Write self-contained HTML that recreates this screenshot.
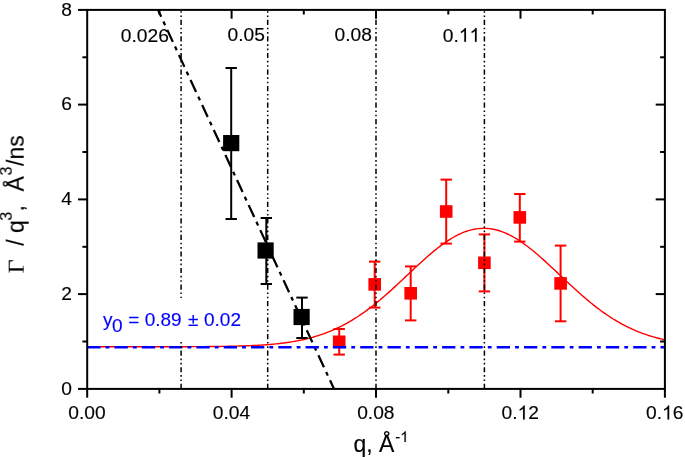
<!DOCTYPE html><html><head><meta charset="utf-8"><title>chart</title><style>html,body{margin:0;padding:0;background:#fff;}svg{display:block}text{font-family:"Liberation Sans",sans-serif;fill:#000;stroke:#000;stroke-width:0.15px}</style></head><body>
<svg width="685" height="457" viewBox="0 0 685 457">
<rect x="0" y="0" width="685" height="457" fill="#fff"/>
<polyline points="87.20,346.74 89.13,346.74 91.05,346.74 92.98,346.74 94.90,346.74 96.83,346.74 98.75,346.74 100.68,346.74 102.61,346.74 104.53,346.74 106.46,346.74 108.38,346.74 110.31,346.74 112.23,346.74 114.16,346.74 116.09,346.74 118.01,346.74 119.94,346.73 121.86,346.73 123.79,346.73 125.71,346.73 127.64,346.73 129.56,346.73 131.49,346.73 133.42,346.73 135.34,346.73 137.27,346.73 139.19,346.73 141.12,346.73 143.04,346.73 144.97,346.73 146.90,346.73 148.82,346.73 150.75,346.73 152.67,346.73 154.60,346.73 156.52,346.72 158.45,346.72 160.38,346.72 162.30,346.72 164.23,346.72 166.15,346.72 168.08,346.71 170.00,346.71 171.93,346.71 173.85,346.71 175.78,346.70 177.71,346.70 179.63,346.70 181.56,346.69 183.48,346.69 185.41,346.68 187.33,346.68 189.26,346.67 191.19,346.66 193.11,346.66 195.04,346.65 196.96,346.64 198.89,346.63 200.81,346.62 202.74,346.61 204.67,346.59 206.59,346.58 208.52,346.56 210.44,346.55 212.37,346.53 214.29,346.51 216.22,346.49 218.15,346.47 220.07,346.44 222.00,346.42 223.92,346.39 225.85,346.36 227.77,346.32 229.70,346.29 231.62,346.25 233.55,346.20 235.48,346.16 237.40,346.11 239.33,346.05 241.25,346.00 243.18,345.93 245.10,345.87 247.03,345.80 248.96,345.72 250.88,345.64 252.81,345.55 254.73,345.45 256.66,345.35 258.58,345.25 260.51,345.13 262.44,345.01 264.36,344.88 266.29,344.74 268.21,344.59 270.14,344.43 272.06,344.26 273.99,344.08 275.92,343.89 277.84,343.68 279.77,343.47 281.69,343.24 283.62,343.00 285.54,342.74 287.47,342.47 289.39,342.19 291.32,341.88 293.25,341.57 295.17,341.23 297.10,340.87 299.02,340.50 300.95,340.11 302.87,339.70 304.80,339.26 306.73,338.81 308.65,338.33 310.58,337.83 312.50,337.30 314.43,336.75 316.35,336.18 318.28,335.58 320.21,334.95 322.13,334.29 324.06,333.61 325.98,332.90 327.91,332.16 329.83,331.39 331.76,330.59 333.69,329.76 335.61,328.90 337.54,328.00 339.46,327.07 341.39,326.12 343.31,325.12 345.24,324.10 347.16,323.04 349.09,321.95 351.02,320.82 352.94,319.66 354.87,318.46 356.79,317.24 358.72,315.97 360.64,314.68 362.57,313.35 364.50,311.99 366.42,310.60 368.35,309.17 370.27,307.71 372.20,306.23 374.12,304.71 376.05,303.17 377.98,301.59 379.90,299.99 381.83,298.37 383.75,296.72 385.68,295.04 387.60,293.35 389.53,291.63 391.46,289.90 393.38,288.14 395.31,286.38 397.23,284.60 399.16,282.81 401.08,281.00 403.01,279.20 404.94,277.38 406.86,275.56 408.79,273.75 410.71,271.93 412.64,270.12 414.56,268.31 416.49,266.51 418.41,264.73 420.34,262.95 422.27,261.20 424.19,259.46 426.12,257.75 428.04,256.06 429.97,254.39 431.89,252.76 433.82,251.16 435.75,249.59 437.67,248.06 439.60,246.58 441.52,245.13 443.45,243.73 445.37,242.37 447.30,241.07 449.23,239.82 451.15,238.62 453.08,237.48 455.00,236.40 456.93,235.38 458.85,234.42 460.78,233.53 462.70,232.70 464.63,231.94 466.56,231.25 468.48,230.63 470.41,230.08 472.33,229.60 474.26,229.20 476.18,228.87 478.11,228.61 480.04,228.43 481.96,228.33 483.89,228.30 485.81,228.35 487.74,228.47 489.66,228.67 491.59,228.94 493.52,229.29 495.44,229.71 497.37,230.21 499.29,230.78 501.22,231.42 503.14,232.12 505.07,232.90 507.00,233.75 508.92,234.66 510.85,235.63 512.77,236.67 514.70,237.76 516.62,238.92 518.55,240.13 520.47,241.39 522.40,242.71 524.33,244.07 526.25,245.49 528.18,246.94 530.10,248.44 532.03,249.98 533.95,251.56 535.88,253.17 537.81,254.81 539.73,256.48 541.66,258.17 543.58,259.89 545.51,261.64 547.43,263.40 549.36,265.17 551.29,266.96 553.21,268.76 555.14,270.57 557.06,272.38 558.99,274.20 560.91,276.02 562.84,277.84 564.77,279.65 566.69,281.46 568.62,283.25 570.54,285.04 572.47,286.82 574.39,288.58 576.32,290.33 578.25,292.06 580.17,293.77 582.10,295.46 584.02,297.13 585.95,298.77 587.87,300.39 589.80,301.99 591.72,303.55 593.65,305.09 595.58,306.60 597.50,308.08 599.43,309.53 601.35,310.95 603.28,312.33 605.20,313.69 607.13,315.01 609.06,316.29 610.98,317.55 612.91,318.77 614.83,319.95 616.76,321.10 618.68,322.22 620.61,323.31 622.54,324.36 624.46,325.37 626.39,326.36 628.31,327.31 630.24,328.23 632.16,329.11 634.09,329.97 636.01,330.79 637.94,331.59 639.87,332.35 641.79,333.08 643.72,333.79 645.64,334.46 647.57,335.11 649.49,335.73 651.42,336.32 653.35,336.89 655.27,337.44 657.20,337.95 659.12,338.45 661.05,338.92 662.97,339.37 664.90,339.80" fill="none" stroke="#ff0000" stroke-width="1.4"/>
<g stroke="#ff0000" stroke-width="2" fill="#ff0000">
<line x1="339.2" y1="329.0" x2="339.2" y2="354.6"/>
<line x1="333.5" y1="329.0" x2="344.9" y2="329.0"/>
<line x1="333.5" y1="354.6" x2="344.9" y2="354.6"/>
<rect x="332.9" y="335.5" width="12.6" height="12.6" stroke="none"/>
</g>
<g stroke="#ff0000" stroke-width="2" fill="#ff0000">
<line x1="374.7" y1="261.6" x2="374.7" y2="307.6"/>
<line x1="369.0" y1="261.6" x2="380.4" y2="261.6"/>
<line x1="369.0" y1="307.6" x2="380.4" y2="307.6"/>
<rect x="368.4" y="278.1" width="12.6" height="12.6" stroke="none"/>
</g>
<g stroke="#ff0000" stroke-width="2" fill="#ff0000">
<line x1="410.7" y1="266.4" x2="410.7" y2="320.4"/>
<line x1="405.0" y1="266.4" x2="416.4" y2="266.4"/>
<line x1="405.0" y1="320.4" x2="416.4" y2="320.4"/>
<rect x="404.4" y="287.0" width="12.6" height="12.6" stroke="none"/>
</g>
<g stroke="#ff0000" stroke-width="2" fill="#ff0000">
<line x1="446.2" y1="179.6" x2="446.2" y2="243.6"/>
<line x1="440.5" y1="179.6" x2="451.9" y2="179.6"/>
<line x1="440.5" y1="243.6" x2="451.9" y2="243.6"/>
<rect x="439.9" y="205.2" width="12.6" height="12.6" stroke="none"/>
</g>
<g stroke="#ff0000" stroke-width="2" fill="#ff0000">
<line x1="484.4" y1="234.4" x2="484.4" y2="291.4"/>
<line x1="478.7" y1="234.4" x2="490.1" y2="234.4"/>
<line x1="478.7" y1="291.4" x2="490.1" y2="291.4"/>
<rect x="478.1" y="256.5" width="12.6" height="12.6" stroke="none"/>
</g>
<g stroke="#ff0000" stroke-width="2" fill="#ff0000">
<line x1="519.8" y1="194.0" x2="519.8" y2="241.6"/>
<line x1="514.1" y1="194.0" x2="525.5" y2="194.0"/>
<line x1="514.1" y1="241.6" x2="525.5" y2="241.6"/>
<rect x="513.5" y="211.1" width="12.6" height="12.6" stroke="none"/>
</g>
<g stroke="#ff0000" stroke-width="2" fill="#ff0000">
<line x1="560.6" y1="245.6" x2="560.6" y2="321.3"/>
<line x1="554.9" y1="245.6" x2="566.3" y2="245.6"/>
<line x1="554.9" y1="321.3" x2="566.3" y2="321.3"/>
<rect x="554.3" y="277.1" width="12.6" height="12.6" stroke="none"/>
</g>
<line x1="158" y1="9.9" x2="334" y2="388.9" stroke="#000" stroke-width="2.25" stroke-dasharray="13.2 5.2 4 5.2" stroke-dashoffset="5.56"/>
<g stroke="#000" stroke-width="2" fill="#000">
<line x1="231.2" y1="68.0" x2="231.2" y2="219.0"/>
<line x1="225.5" y1="68.0" x2="236.9" y2="68.0"/>
<line x1="225.5" y1="219.0" x2="236.9" y2="219.0"/>
<rect x="223.1" y="135.0" width="16.2" height="16.2" stroke="none"/>
</g>
<g stroke="#000" stroke-width="2" fill="#000">
<line x1="266.3" y1="218.0" x2="266.3" y2="284.0"/>
<line x1="260.6" y1="218.0" x2="272.0" y2="218.0"/>
<line x1="260.6" y1="284.0" x2="272.0" y2="284.0"/>
<rect x="257.5" y="242.4" width="16.2" height="16.2" stroke="none"/>
</g>
<g stroke="#000" stroke-width="2" fill="#000">
<line x1="302.0" y1="297.6" x2="302.0" y2="338.0"/>
<line x1="296.3" y1="297.6" x2="307.7" y2="297.6"/>
<line x1="296.3" y1="338.0" x2="307.7" y2="338.0"/>
<rect x="293.5" y="308.9" width="16.2" height="16.2" stroke="none"/>
</g>
<line x1="87.2" y1="347.2" x2="664.9" y2="347.2" stroke="#0000ff" stroke-width="2.5" stroke-dasharray="13.3 5.1 3.8 5.1"/>
<line x1="181.1" y1="388.9" x2="181.1" y2="9.9" stroke="#000" stroke-width="1.5" stroke-dasharray="5.2 2.7 1.6 2.72 1.6 2.72"/>
<line x1="267.7" y1="388.9" x2="267.7" y2="9.9" stroke="#000" stroke-width="1.5" stroke-dasharray="5.2 2.7 1.6 2.72 1.6 2.72"/>
<line x1="376.0" y1="388.9" x2="376.0" y2="9.9" stroke="#000" stroke-width="1.5" stroke-dasharray="5.2 2.7 1.6 2.72 1.6 2.72"/>
<line x1="484.4" y1="388.9" x2="484.4" y2="9.9" stroke="#000" stroke-width="1.5" stroke-dasharray="5.2 2.7 1.6 2.72 1.6 2.72"/>
<rect x="99" y="298.3" width="146" height="43.1" fill="#fff"/>
<rect x="87.2" y="9.9" width="577.7" height="379.0" fill="none" stroke="#000" stroke-width="2"/>
<g stroke="#000" stroke-width="2">
<line x1="87.2" y1="388.9" x2="87.2" y2="397.7"/>
<line x1="159.4" y1="388.9" x2="159.4" y2="393.5"/>
<line x1="159.4" y1="9.9" x2="159.4" y2="14.5"/>
<line x1="231.6" y1="388.9" x2="231.6" y2="397.7"/>
<line x1="231.6" y1="9.9" x2="231.6" y2="18.7"/>
<line x1="303.8" y1="388.9" x2="303.8" y2="393.5"/>
<line x1="303.8" y1="9.9" x2="303.8" y2="14.5"/>
<line x1="376.0" y1="388.9" x2="376.0" y2="397.7"/>
<line x1="376.0" y1="9.9" x2="376.0" y2="18.7"/>
<line x1="448.3" y1="388.9" x2="448.3" y2="393.5"/>
<line x1="448.3" y1="9.9" x2="448.3" y2="14.5"/>
<line x1="520.5" y1="388.9" x2="520.5" y2="397.7"/>
<line x1="520.5" y1="9.9" x2="520.5" y2="18.7"/>
<line x1="592.7" y1="388.9" x2="592.7" y2="393.5"/>
<line x1="592.7" y1="9.9" x2="592.7" y2="14.5"/>
<line x1="664.9" y1="388.9" x2="664.9" y2="397.7"/>
<line x1="87.2" y1="388.9" x2="78.0" y2="388.9"/>
<line x1="87.2" y1="341.5" x2="82.4" y2="341.5"/>
<line x1="664.9" y1="341.5" x2="660.1" y2="341.5"/>
<line x1="87.2" y1="294.1" x2="78.0" y2="294.1"/>
<line x1="664.9" y1="294.1" x2="655.7" y2="294.1"/>
<line x1="87.2" y1="246.8" x2="82.4" y2="246.8"/>
<line x1="664.9" y1="246.8" x2="660.1" y2="246.8"/>
<line x1="87.2" y1="199.4" x2="78.0" y2="199.4"/>
<line x1="664.9" y1="199.4" x2="655.7" y2="199.4"/>
<line x1="87.2" y1="152.0" x2="82.4" y2="152.0"/>
<line x1="664.9" y1="152.0" x2="660.1" y2="152.0"/>
<line x1="87.2" y1="104.6" x2="78.0" y2="104.6"/>
<line x1="664.9" y1="104.6" x2="655.7" y2="104.6"/>
<line x1="87.2" y1="57.3" x2="82.4" y2="57.3"/>
<line x1="664.9" y1="57.3" x2="660.1" y2="57.3"/>
<line x1="87.2" y1="9.9" x2="78.0" y2="9.9"/>
</g>
<g opacity="0.999">
<text x="68.32" y="419.40" font-size="19.2" style="fill:#000;stroke:#000">0.00</text>
<text x="212.74" y="419.40" font-size="19.2" style="fill:#000;stroke:#000">0.04</text>
<text x="357.17" y="419.40" font-size="19.2" style="fill:#000;stroke:#000">0.08</text>
<text x="501.59" y="419.40" font-size="19.2" style="fill:#000;stroke:#000">0.</text>
<path transform="translate(517.61,419.40) scale(0.00937,-0.00937)" d="M763 0H583V1147Q518 1085 412.5 1023T223 930V1104Q374 1175 487 1276T647 1472H763V0Z" fill="#000" stroke="#000" stroke-width="16.0"/>
<text x="528.28" y="419.40" font-size="19.2" style="fill:#000;stroke:#000">2</text>
<text x="646.02" y="419.40" font-size="19.2" style="fill:#000;stroke:#000">0.</text>
<path transform="translate(662.03,419.40) scale(0.00937,-0.00937)" d="M763 0H583V1147Q518 1085 412.5 1023T223 930V1104Q374 1175 487 1276T647 1472H763V0Z" fill="#000" stroke="#000" stroke-width="16.0"/>
<text x="672.71" y="419.40" font-size="19.2" style="fill:#000;stroke:#000">6</text>
<text x="72" y="394.6" font-size="19.2" text-anchor="end">0</text>
<text x="72" y="299.8" font-size="19.2" text-anchor="end">2</text>
<text x="72" y="205.1" font-size="19.2" text-anchor="end">4</text>
<text x="72" y="110.3" font-size="19.2" text-anchor="end">6</text>
<text x="72" y="15.6" font-size="19.2" text-anchor="end">8</text>
<text x="144.8" y="42.3" font-size="19.2" text-anchor="middle">0.026</text>
<text x="246.3" y="40.8" font-size="19.2" text-anchor="middle">0.05</text>
<text x="353.3" y="41" font-size="19.2" text-anchor="middle">0.08</text>
<text x="442.82" y="41.80" font-size="19.2" style="fill:#000;stroke:#000">0.</text>
<path transform="translate(458.83,41.80) scale(0.00937,-0.00937)" d="M763 0H583V1147Q518 1085 412.5 1023T223 930V1104Q374 1175 487 1276T647 1472H763V0Z" fill="#000" stroke="#000" stroke-width="16.0"/>
<path transform="translate(469.51,41.80) scale(0.00937,-0.00937)" d="M763 0H583V1147Q518 1085 412.5 1023T223 930V1104Q374 1175 487 1276T647 1472H763V0Z" fill="#000" stroke="#000" stroke-width="16.0"/>
<g font-size="19" style="fill:#0000ff;stroke:#0000ff"><text x="103" y="325.7" style="fill:#0000ff;stroke:#0000ff">y<tspan dy="6" dx="-0.5">0</tspan></text><text x="128.3" y="325.7" style="fill:#0000ff;stroke:#0000ff">= 0.89</text><text x="188" y="325.7" style="fill:#0000ff;stroke:#0000ff">±</text><text x="204" y="325.7" style="fill:#0000ff;stroke:#0000ff">0.02</text></g>
<text x="353.4" y="451.8" font-size="23">q, Å</text>
<text x="395.20" y="442.00" font-size="15" style="fill:#000;stroke:#000">-</text>
<path transform="translate(400.19,442.00) scale(0.00732,-0.00732)" d="M763 0H583V1147Q518 1085 412.5 1023T223 930V1104Q374 1175 487 1276T647 1472H763V0Z" fill="#000" stroke="#000" stroke-width="20.5"/>
<g transform="translate(23.7,273) rotate(-90)" font-size="23">
<text x="-0.2" y="0" font-family="Liberation Serif" style="font-family:'Liberation Serif',serif" font-size="24">Γ</text>
<text x="27.3" y="0">/</text><text x="39.9" y="0">q</text><text x="52.2" y="-11.9" font-size="16">3</text><text x="61.6" y="0">,</text>
<text x="81.6" y="0">Å</text><text x="97.5" y="-11.9" font-size="16">3</text><text x="107" y="0">/ns</text>
</g>
</g>
</svg></body></html>
